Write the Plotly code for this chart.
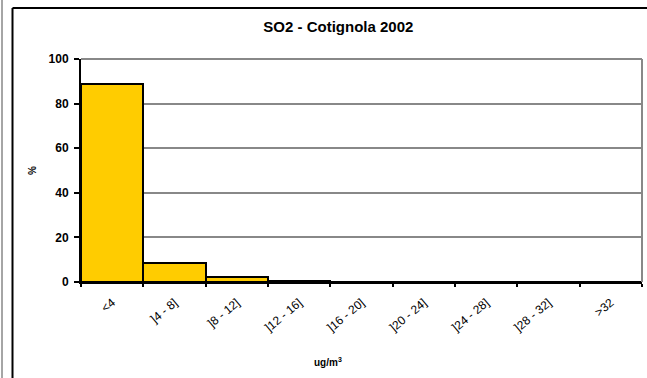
import plotly.graph_objects as go

classes = ['<4', ']4 - 8]', ']8 - 12]', ']12 - 16]', ']16 - 20]', ']20 - 24]', ']24 - 28]', ']28 - 32]', '>32']
percent = [88.8, 8.4, 2.2, 0.5, 0.2, 0.0, 0.0, 0.0, 0.0]

fig = go.Figure()
fig.add_trace(go.Bar(x=classes, y=percent, marker=dict(color='#FFCC00', line=dict(color='black', width=2))))

# chart frame (excel style)
fig.add_shape(type='line', xref='paper', yref='paper', x0=-0.1221, x1=-0.1221, y0=-0.6, y1=1.2287,
              line=dict(color='black', width=2))
fig.add_shape(type='line', xref='paper', yref='paper', x0=-0.1221, x1=1.2, y0=1.2287, y1=1.2287,
              line=dict(color='black', width=2))
fig.add_shape(type='line', xref='paper', yref='paper', x0=-0.1408, x1=-0.1408, y0=-0.6, y1=1.3,
              line=dict(color='#888888', width=1.5))
fig.add_shape(type='line', xref='paper', yref='paper', x0=1, x1=1, y0=0, y1=1,
              line=dict(color='#888888', width=2))
fig.add_shape(type='line', xref='paper', yref='paper', x0=0, x1=1, y0=1, y1=1,
              line=dict(color='#888888', width=2), layer='below')

# x axis title, placed like the excel one
fig.add_annotation(text='<b>ug/m<sup>3</sup></b>', xref='paper', yref='paper', x=0.44, y=-0.359,
                   yanchor='middle', showarrow=False, font=dict(size=10, color='black'))

fig.update_layout(
    width=647, height=378,
    margin=dict(l=81, r=5, t=59, b=96),
    paper_bgcolor='white', plot_bgcolor='white',
    font=dict(family='Liberation Sans, Arial', color='black'),
    title=dict(text='<b>SO2 - Cotignola 2002</b>', x=0.523, xref='container', xanchor='center',
               y=0.928, yref='container', yanchor='middle', font=dict(size=15, color='black'),
               automargin=False),
    bargap=0, showlegend=False,
)
fig.update_yaxes(range=[0, 100], dtick=20, showgrid=True, gridcolor='#888888', gridwidth=2,
                 showline=True, linecolor='black', linewidth=2, ticks='outside', ticklen=5,
                 tickcolor='black', tickwidth=2, zeroline=False, automargin=False,
                 tickfont=dict(size=12, color='black'), tickprefix='<b>', ticksuffix='</b>',
                 ticklabelstandoff=3,
                 title=dict(text='<b>%</b>', font=dict(size=10, color='black'), standoff=10))
fig.update_xaxes(showline=True, linecolor='black', linewidth=2, ticks='outside', ticklen=3,
                 tickcolor='black', tickwidth=2, tickson='boundaries', tickangle=-40,
                 automargin=False, tickfont=dict(size=12, color='black'), ticklabelstandoff=7)

fig.write_html("out.html", config={'displayModeBar': False},
               post_script="document.body.style.margin='0';document.body.style.overflow='hidden';")
